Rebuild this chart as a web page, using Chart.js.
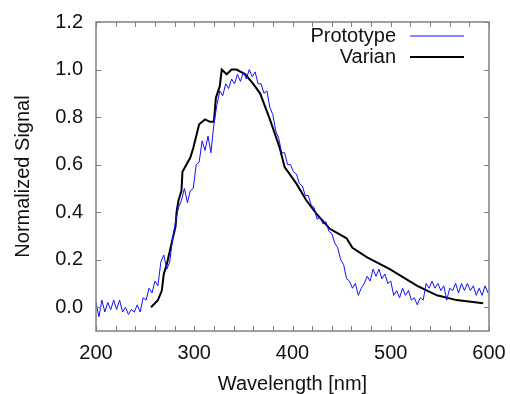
<!DOCTYPE html>
<html>
<head>
<meta charset="utf-8">
<script src="https://cdn.jsdelivr.net/npm/chart.js@4/dist/chart.umd.min.js"></script>
<style>
  html, body { margin: 0; padding: 0; background: #fff; }
  #wrap { width: 510px; height: 394px; }
</style>
</head>
<body>
<div id="wrap"><canvas id="specChart"></canvas></div>
<script>
// wavelengths (nm) and normalized signal
const protoWl = [200,203,206,209,212,215,218,221,224,227,230,233,236,239,242,245,248,251,254,257,
  260,263,266,269,272,275,278,281,284,287,290,293,296,299,302,305,308,311,314,317,
  320,323,326,329,332,335,338,341,344,347,350,353,356,359,362,365,368,371,374,377,
  380,383,386,389,392,395,398,401,404,407,410,413,416,419,422,425,428,431,434,437,
  440,443,446,449,452,455,458,461,464,467,470,473,476,479,482,485,488,491,494,497,
  500,503,506,509,512,515,518,521,524,527,530,533,536,539,542,545,548,551,554,557,
  560,563,566,569,572,575,578,581,584,587,590,593,596,599];
const protoSig = [0.02,-0.04,0.03,-0.02,0.02,-0.01,0.03,-0.01,0.03,-0.02,0.00,-0.03,-0.01,-0.02,0.01,-0.02,0.04,0.03,0.08,0.06,
  0.11,0.09,0.19,0.22,0.16,0.19,0.29,0.36,0.42,0.45,0.50,0.44,0.49,0.50,0.60,0.61,0.70,0.66,0.72,0.65,
  0.77,0.85,0.91,0.89,0.94,0.92,0.96,0.94,0.98,0.95,0.99,0.96,1.00,0.97,0.99,0.94,0.94,0.90,0.91,0.84,
  0.81,0.74,0.71,0.65,0.65,0.60,0.60,0.57,0.56,0.52,0.51,0.47,0.47,0.43,0.42,0.37,0.38,0.35,0.36,0.32,
  0.31,0.27,0.25,0.20,0.18,0.12,0.11,0.08,0.10,0.05,0.08,0.10,0.13,0.11,0.16,0.13,0.16,0.12,0.14,0.10,
  0.11,0.05,0.07,0.04,0.08,0.05,0.07,0.03,0.04,0.01,0.04,0.03,0.10,0.08,0.11,0.08,0.10,0.07,0.09,0.03,
  0.08,0.07,0.10,0.06,0.10,0.07,0.10,0.07,0.09,0.05,0.08,0.05,0.09,0.06];

const varianWl = [256,263,267,269,272,277,281,282,284,287,288,296,299,305,311,316,320,322,326,328,
  333,338,343,352,360,367,377,387,392,404,414,425,438,455,461,476,499,527,547,567,594];
const varianSig = [0.00,0.03,0.07,0.14,0.18,0.27,0.34,0.40,0.45,0.49,0.57,0.63,0.67,0.77,0.79,0.78,0.78,0.88,0.93,1.00,
  0.98,1.00,1.00,0.98,0.94,0.90,0.79,0.67,0.59,0.52,0.45,0.39,0.33,0.29,0.25,0.21,0.16,0.09,0.05,0.03,0.017];

const yTicks = [0.0, 0.2, 0.4, 0.6, 0.8, 1.0, 1.2];
const xTicks = [200, 300, 400, 500, 600];
const xMinorStep = 20;

const toXY = (xs, ys) => xs.map((x, i) => ({ x: x, y: ys[i] }));

const FONT = "'Liberation Sans', Arial, Helvetica, sans-serif";
const frameColor = '#808080';

// frame, inward ticks on all four sides, and the legend (text left of line)
const framePlugin = {
  id: 'frameTicks',
  afterDraw(chart) {
    const { ctx, chartArea: a, scales } = chart;
    const xs = scales.x, ys = scales.y;
    ctx.save();
    ctx.strokeStyle = frameColor;
    ctx.lineWidth = 1.5;
    ctx.strokeRect(a.left, a.top, a.right - a.left, a.bottom - a.top);
    ctx.lineWidth = 1;
    ctx.beginPath();
    for (let v = xs.min; v <= xs.max; v += xMinorStep) {
      const px = Math.round(xs.getPixelForValue(v)) + 0.5;
      ctx.moveTo(px, a.bottom); ctx.lineTo(px, a.bottom - 5);
      ctx.moveTo(px, a.top); ctx.lineTo(px, a.top + 5);
    }
    yTicks.forEach(v => {
      const py = Math.round(ys.getPixelForValue(v)) + 0.5;
      ctx.moveTo(a.left, py); ctx.lineTo(a.left + 5, py);
      ctx.moveTo(a.right, py); ctx.lineTo(a.right - 5, py);
    });
    ctx.stroke();

    // legend
    ctx.font = '20px ' + FONT;
    ctx.textAlign = 'right';
    ctx.textBaseline = 'middle';
    chart.data.datasets.forEach((ds, i) => {
      const y = 36 + i * 21;
      ctx.fillStyle = '#111';
      ctx.fillText(ds.label, 396, y);
      ctx.strokeStyle = ds.borderColor;
      ctx.lineWidth = ds.borderWidth;
      ctx.beginPath();
      ctx.moveTo(410, y); ctx.lineTo(464, y);
      ctx.stroke();
    });
    ctx.restore();
  }
};

new Chart(document.getElementById('specChart'), {
  type: 'line',
  data: {
    datasets: [
      {
        label: 'Prototype',
        data: toXY(protoWl, protoSig),
        borderColor: '#1010ff',
        borderWidth: 1,
        pointRadius: 0,
        tension: 0
      },
      {
        label: 'Varian',
        data: toXY(varianWl, varianSig),
        borderColor: '#000000',
        borderWidth: 2,
        pointRadius: 0,
        tension: 0
      }
    ]
  },
  options: {
    responsive: true,
    maintainAspectRatio: false,
    animation: false,
    layout: { padding: { top: 22, right: 21, left: 0, bottom: 0 } },
    plugins: {
      legend: { display: false },
      tooltip: { enabled: false }
    },
    scales: {
      x: {
        type: 'linear',
        min: 200,
        max: 600,
        grid: { display: false, drawTicks: false },
        border: { display: false },
        afterBuildTicks: s => { s.ticks = xTicks.map(v => ({ value: v })); },
        afterFit: s => { s.height = 63; s.paddingLeft = 0; s.paddingRight = 0; },
        ticks: {
          padding: 10,
          color: '#111',
          font: { family: FONT, size: 20 },
          maxRotation: 0
        },
        title: {
          display: true,
          text: 'Wavelength [nm]',
          color: '#111',
          font: { family: FONT, size: 20, lineHeight: 1 },
          padding: { top: -9, bottom: 0 }
        }
      },
      y: {
        min: -0.1,
        max: 1.2,
        grid: { display: false, drawTicks: false },
        border: { display: false },
        afterBuildTicks: s => { s.ticks = yTicks.map(v => ({ value: v })); },
        afterFit: s => { s.width = 96; s.paddingTop = 0; s.paddingBottom = 0; },
        ticks: {
          padding: 13,
          color: '#111',
          font: { family: FONT, size: 20 },
          callback: v => Number(v).toFixed(1)
        },
        title: {
          display: true,
          text: 'Normalized Signal',
          color: '#111',
          font: { family: FONT, size: 20, lineHeight: 1 },
          padding: { top: 13, bottom: 0 }
        }
      }
    }
  },
  plugins: [framePlugin]
});
</script>
</body>
</html>
